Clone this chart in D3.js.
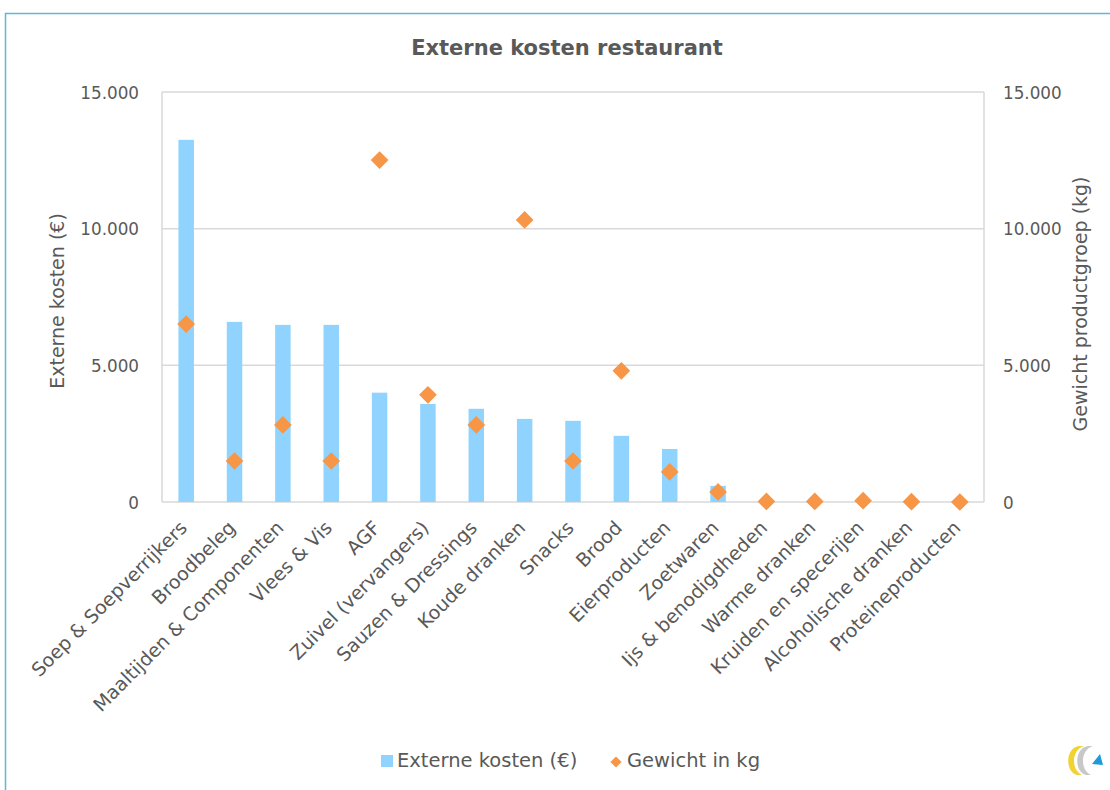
<!DOCTYPE html>
<html><head><meta charset="utf-8">
<script src="https://cdn.jsdelivr.net/npm/d3@7"></script>
<style>
html,body{margin:0;padding:0;background:#fff;}
svg text{font-family:"DejaVu Sans",sans-serif;fill:#595959;}
</style></head>
<body>
<svg id="c" width="1110" height="790"></svg>
<script>
const categories = ["Soep & Soepverrijkers","Broodbeleg","Maaltijden & Componenten","Vlees & Vis","AGF","Zuivel (vervangers)","Sauzen & Dressings","Koude dranken","Snacks","Brood","Eierproducten","Zoetwaren","Ijs & benodigdheden","Warme dranken","Kruiden en specerijen","Alcoholische dranken","Proteineproducten"];
const kosten = [13250,6590,6480,6480,4000,3590,3410,3040,2970,2420,1940,590,0,0,0,0,0];
const gewicht = [6510,1500,2820,1500,12510,3920,2820,10320,1500,4800,1100,370,20,20,50,10,0];
const tickValues = [0,5000,10000,15000];
const tickLabels = ["0","5.000","10.000","15.000"];

const svg = d3.select("#c");
const W=1110,H=790;
const m={l:162,r:984,t:92,b:502};

// outer border
svg.append("rect").attr("x",5.5).attr("y",13.5).attr("width",W+20).attr("height",H+20)
  .attr("fill","none").attr("stroke","#5fb6dc").attr("stroke-width",1.5);

const x=d3.scaleBand().domain(categories).range([m.l,m.r]).paddingInner(0.68).paddingOuter(0.34);
const yL=d3.scaleLinear().domain([0,15000]).range([m.b,m.t]);
const yR=d3.scaleLinear().domain([0,15000]).range([m.b,m.t]);

// gridlines
svg.append("g").selectAll("line").data(tickValues).join("line")
  .attr("x1",m.l).attr("x2",m.r).attr("y1",d=>yL(d)).attr("y2",d=>yL(d))
  .attr("stroke","#d9d9d9").attr("stroke-width",1.5);
svg.append("line").attr("x1",m.l).attr("x2",m.l).attr("y1",m.t).attr("y2",m.b).attr("stroke","#d9d9d9").attr("stroke-width",1.5);
svg.append("line").attr("x1",m.r).attr("x2",m.r).attr("y1",m.t).attr("y2",m.b).attr("stroke","#d9d9d9").attr("stroke-width",1.5);

// bars
svg.append("g").selectAll("rect").data(categories).join("rect")
  .attr("x",d=>x(d)).attr("width",x.bandwidth())
  .attr("y",(d,i)=>yL(kosten[i])).attr("height",(d,i)=>m.b-yL(kosten[i]))
  .attr("fill","#8fd3fe");

// diamonds
const cx=d=>x(d)+x.bandwidth()/2;
svg.append("g").selectAll("path").data(categories).join("path")
  .attr("d",d3.symbol(d3.symbolDiamond2,200))
  .attr("transform",(d,i)=>`translate(${cx(d)},${yR(gewicht[i])})`)
  .attr("fill","#f79646");

// axes
const fmt=(d)=>tickLabels[tickValues.indexOf(d)];
const axL=svg.append("g").attr("transform",`translate(${m.l-20},0)`)
  .call(d3.axisLeft(yL).tickValues(tickValues).tickFormat(fmt).tickSize(0));
const axR=svg.append("g").attr("transform",`translate(${m.r+16},0)`)
  .call(d3.axisRight(yR).tickValues(tickValues).tickFormat(fmt).tickSize(0));
[axL,axR].forEach(a=>{a.select(".domain").remove();a.selectAll("text").style("font-size","16.8px").attr("fill","#595959").attr("dy","0.36em");});

const axB=svg.append("g").attr("transform",`translate(0,${m.b})`)
  .call(d3.axisBottom(x).tickSize(0));
axB.select(".domain").remove();
axB.selectAll("text").style("font-size","19px").attr("fill","#595959")
  .attr("text-anchor","end").attr("dy","0").attr("y",0)
  .attr("transform","translate(2,27) rotate(-45)");

// title
svg.append("text").attr("x",567).attr("y",55).attr("text-anchor","middle")
  .style("font-size","21px").style("font-weight","bold").text("Externe kosten restaurant");

// axis titles
svg.append("text").attr("transform","translate(64,301) rotate(-90)").attr("text-anchor","middle")
  .style("font-size","19px").text("Externe kosten (€)");
svg.append("text").attr("transform","translate(1087,304) rotate(-90)").attr("text-anchor","middle")
  .style("font-size","19px").text("Gewicht productgroep (kg)");

// legend
const lg=svg.append("g");
lg.append("rect").attr("x",381).attr("y",755).attr("width",12).attr("height",12).attr("fill","#8fd3fe");
lg.append("text").attr("x",397).attr("y",767).style("font-size","19.5px").text("Externe kosten (€)");
lg.append("path").attr("d",d3.symbol(d3.symbolDiamond2,80)).attr("transform","translate(616,762)").attr("fill","#f79646");
lg.append("text").attr("x",627).attr("y",767).style("font-size","19.5px").text("Gewicht in kg");

// logo
const lo=svg.append("g").attr("transform","translate(1083,760)");
lo.append("path").attr("d","M-4,-14 C-18,-12 -18,12 -6,15 L-1,15 C-12,10 -12,-10 1,-14 Z").attr("fill","#f2d22e");
lo.append("path").attr("d","M5,-14 C-9,-12 -9,12 3,15 L8,15 C-3,10 -3,-10 10,-14 Z").attr("fill","#c8c8c8");
lo.append("path").attr("d","M9,4 L17,-6 L20,5 Z").attr("fill","#1e9ad6");
</script>
</body></html>
